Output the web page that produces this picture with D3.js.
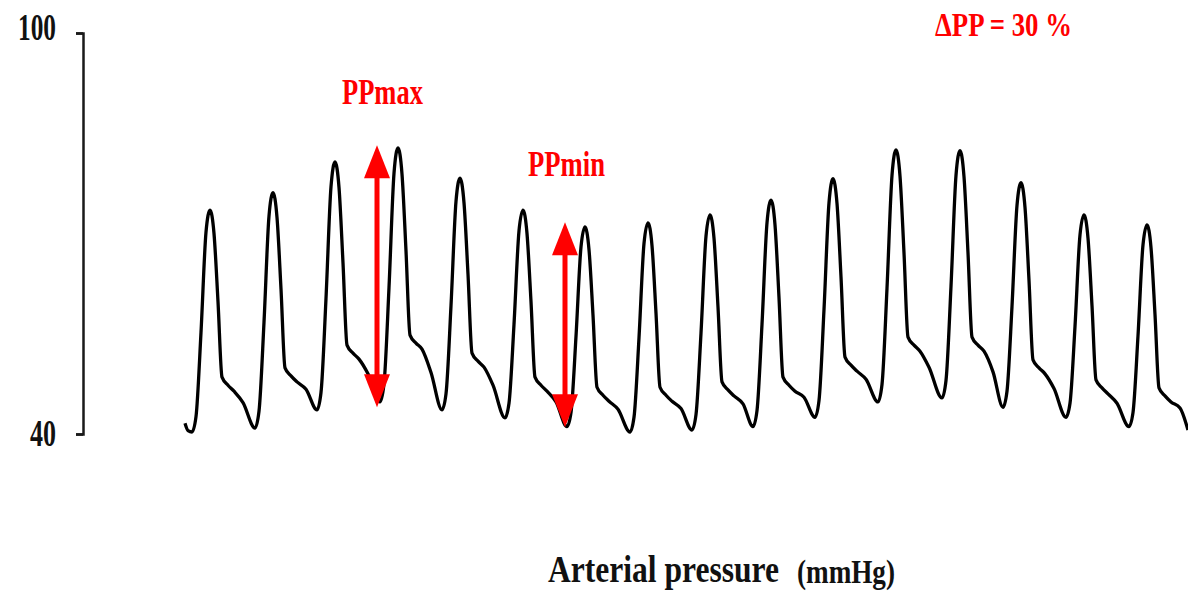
<!DOCTYPE html>
<html>
<head>
<meta charset="utf-8">
<script src="https://cdn.jsdelivr.net/npm/d3@7"></script>
<style>
  html, body { margin: 0; padding: 0; background: #fff; }
  svg { display: block; }
  text { font-family: "Liberation Serif", "Times New Roman", serif; font-weight: bold; }
</style>
</head>
<body>
<svg id="chart" width="1188" height="603"></svg>
<script>
// ---- Data (time in ms, pressure in mmHg) ----
const yTickValues = [40, 100];
const yDomain = [40, 100];
const timeDomainMs = [0, 16048];

const traceTimeMs = [
  0, 48,
  112,176,256,336,400,464,528,592,688,784,928,
  1120,1184,1264,1344,1408,1472,1536,1600,1696,1792,1936,
  2112,2176,2256,2336,2400,2464,2528,2592,2688,2784,2928,
  3120,3184,3264,3344,3408,3472,3536,3600,3696,3792,3936,
  4112,4176,4256,4336,4400,4464,4528,4592,4688,4784,4928,
  5120,5184,5264,5344,5408,5472,5536,5600,5696,5792,5936,
  6112,6176,6256,6336,6400,6464,6528,6592,6688,6784,6928,
  7120,7184,7264,7344,7408,7472,7536,7600,7696,7792,7936,
  8112,8176,8256,8336,8400,8464,8528,8592,8688,8784,8928,
  9088,9152,9232,9312,9376,9440,9504,9568,9664,9760,9904,
  10080,10144,10224,10304,10368,10432,10496,10560,10656,10752,10896,
  11088,11152,11232,11312,11376,11440,11504,11568,11664,11760,11904,
  12112,12176,12256,12336,12400,12464,12528,12592,12688,12784,12928,
  13088,13152,13232,13312,13376,13440,13504,13568,13664,13760,13904,
  14096,14160,14240,14320,14384,14448,14512,14576,14672,14768,14912,
  15104,15168,15248,15328,15392,15456,15520,15584,15680,15776,15920,
  16048
];

const tracePressure = [
  41.6, 40.5,
  40.3,42.6,55.2,70.2,73.5,70.0,59.8,48.5,47.3,46.4,44.7,
  40.9,43.4,56.7,72.6,76.1,72.4,61.7,49.9,48.7,47.8,46.7,
  43.6,46.2,60.3,77.0,80.7,76.9,65.6,53.3,52.1,51.2,49.0,
  44.8,47.5,61.9,79.0,82.8,78.9,67.4,54.8,53.6,52.7,49.2,
  43.6,46.0,59.2,74.8,78.3,74.6,63.9,52.1,50.9,50.0,47.3,
  42.4,44.6,56.4,70.4,73.5,70.0,59.8,48.5,47.3,46.4,44.8,
  41.1,43.2,54.6,68.0,71.0,67.6,57.8,47.0,45.8,44.9,43.7,
  40.3,42.5,54.4,68.5,71.6,68.2,58.1,47.0,45.8,44.9,43.8,
  40.6,42.9,55.1,69.6,72.8,69.3,59.0,47.8,46.6,45.7,44.5,
  41.1,43.5,56.4,71.6,75.0,71.3,60.4,48.5,47.3,46.4,45.5,
  42.5,45.0,58.6,74.6,78.2,74.5,63.5,51.5,50.3,49.4,48.2,
  44.8,47.4,61.8,78.7,82.5,78.6,67.1,54.5,53.3,52.4,50.0,
  45.4,48.0,62.1,78.7,82.4,78.5,67.1,54.5,53.3,52.4,49.3,
  44.0,46.4,59.1,74.2,77.6,73.9,63.0,51.1,49.9,49.0,46.8,
  42.5,44.6,56.1,69.8,72.8,69.3,59.2,48.1,46.9,46.0,44.6,
  41.1,43.2,54.7,68.3,71.3,67.9,57.9,46.9,45.7,44.8,43.9,
  40.6
];

// Pulse pressure arrows (max and min beats)
const arrowLabels = ["PPmax", "PPmin"];
const arrowTimeMs = [3072, 6080];
const arrowLow = [44.0, 41.0];
const arrowHigh = [83.2, 71.7];

const deltaPPText = "\u0394PP = 30 %";
const axisTitle = "Arterial pressure";
const axisUnit = "(mmHg)";

// ---- Layout ----
const svg = d3.select("#chart");
const x = d3.scaleLinear().domain(timeDomainMs).range([185, 1188]);
const y = d3.scaleLinear().domain(yDomain).range([434, 33]);

// condensed text: place at (tx,ty), squeeze horizontally to width w
function condensedText(str, tx, ty, size, w, fill, anchor) {
  const g = svg.append("g");
  const t = g.append("text")
    .attr("font-size", size)
    .attr("fill", fill)
    .attr("text-anchor", anchor || "start")
    .text(str);
  const nat = t.node().getComputedTextLength();
  g.attr("transform", `translate(${tx},${ty}) scale(${w / nat},1)`);
  return g;
}

// Y axis (bracket style)
const yAxis = d3.axisLeft(y)
  .tickValues(yTickValues)
  .tickSize(7)
  .tickSizeOuter(7)
  .tickFormat(() => "");

const gAxis = svg.append("g").attr("transform", "translate(83,0)").call(yAxis);
gAxis.select(".domain").attr("stroke", "#1a1a1a").attr("stroke-width", 2.5);
gAxis.selectAll(".tick line").attr("stroke", "#1a1a1a").attr("stroke-width", 2.5);

// Tick labels (condensed serif, right-aligned to x = 56)
yTickValues.forEach(v => {
  const isTop = v === yDomain[1];
  condensedText(String(v), 56, y(v) + (isTop ? 7 : 12), 37, isTop ? 38 : 26, "#111", "end");
});

// Trace
const points = traceTimeMs.map((t, i) => [t, tracePressure[i]]);
const line = d3.line()
  .x(d => x(d[0]))
  .y(d => y(d[1]))
  .curve(d3.curveMonotoneX);

svg.append("path")
  .datum(points)
  .attr("fill", "none")
  .attr("stroke", "#000")
  .attr("stroke-width", 3.3)
  .attr("stroke-linejoin", "round")
  .attr("d", line);

// Arrows
const red = "#ff0000";
const headW = 13, headH = 33;
arrowLabels.forEach((lab, i) => {
  const ax = x(arrowTimeMs[i]);
  const yTop = y(arrowHigh[i]);
  const yBot = y(arrowLow[i]);
  const g = svg.append("g");
  g.append("line")
    .attr("x1", ax).attr("x2", ax)
    .attr("y1", yTop + headH - 2).attr("y2", yBot - headH + 2)
    .attr("stroke", red).attr("stroke-width", 5);
  g.append("path")
    .attr("d", `M${ax},${yTop} L${ax + headW},${yTop + headH} L${ax - headW},${yTop + headH} Z`)
    .attr("fill", red);
  g.append("path")
    .attr("d", `M${ax},${yBot} L${ax + headW},${yBot - headH} L${ax - headW},${yBot - headH} Z`)
    .attr("fill", red);
});

// Labels
condensedText(arrowLabels[0], 342, 104, 35, 81, red);
condensedText(arrowLabels[1], 528, 176, 35, 77, red);
condensedText(deltaPPText, 935, 36, 34, 137, red);
condensedText(axisTitle, 548, 582, 38, 231, "#111");
condensedText(axisUnit, 797, 583, 34, 98, "#111");
</script>
</body>
</html>
